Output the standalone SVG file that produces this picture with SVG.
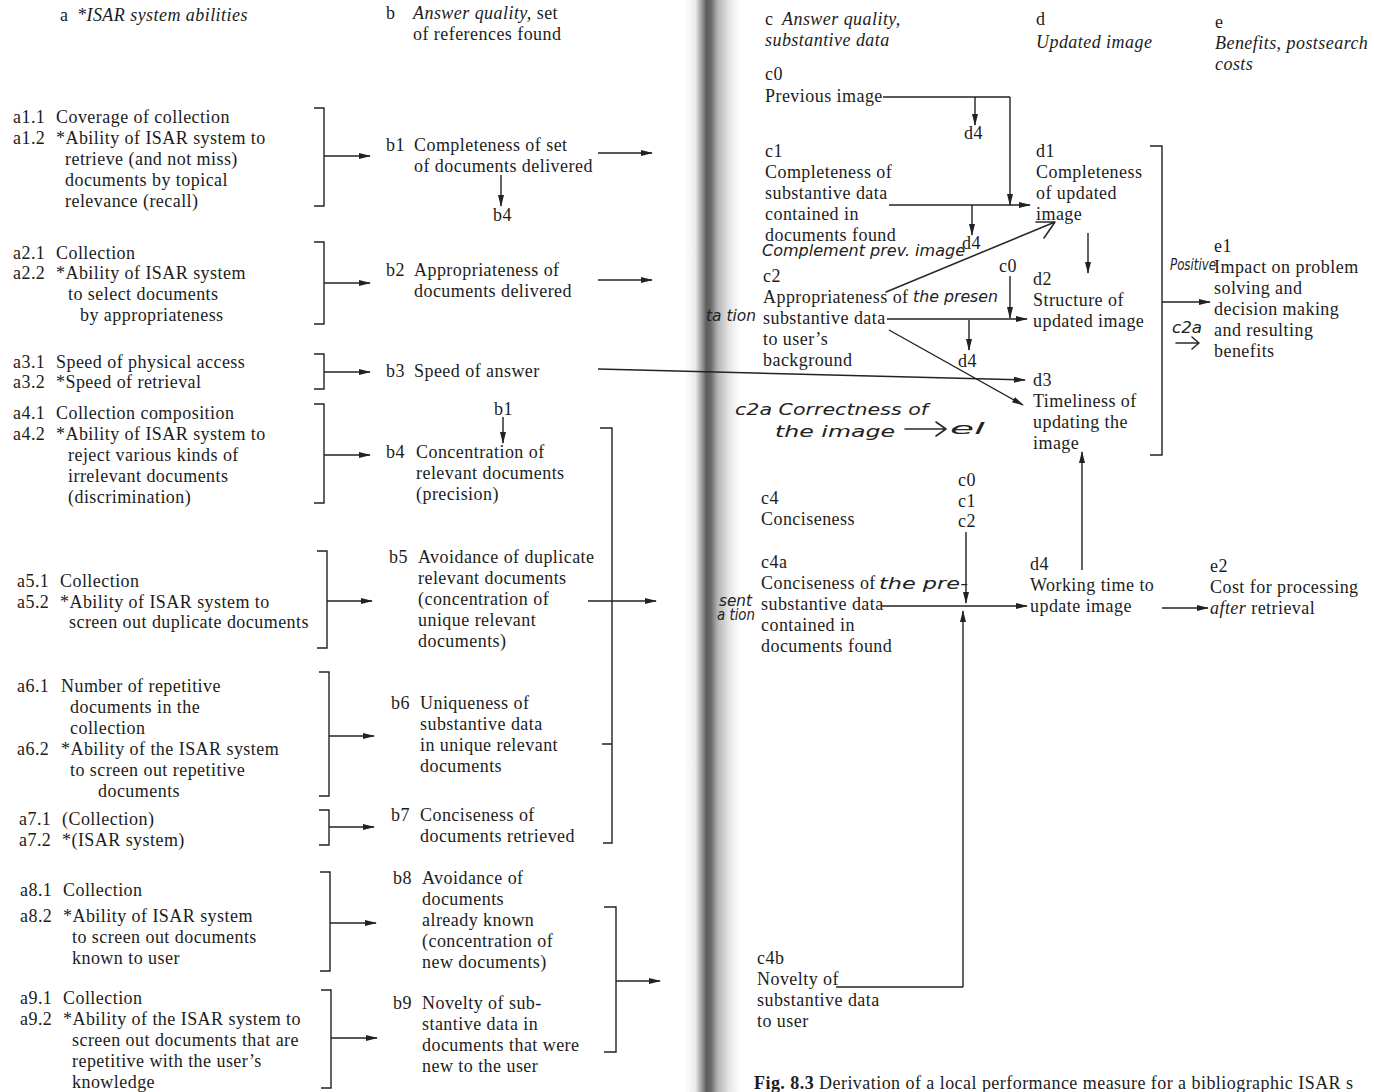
<svg xmlns="http://www.w3.org/2000/svg" width="1374" height="1092" viewBox="0 0 1374 1092">
<defs>
<style>
text{font-family:"Liberation Serif","Times New Roman",serif;font-size:18px;letter-spacing:0.45px;fill:#1c1c1c}
.i{font-style:italic}
.b{font-weight:bold}
.hw{font-family:"DejaVu Sans","Noto Sans",sans-serif;font-style:italic;font-size:16px;letter-spacing:0;fill:#222}
.ln{fill:none;stroke:#222;stroke-width:1.4}
.ar{fill:none;stroke:#222;stroke-width:1.4;marker-end:url(#ah)}
.pen{fill:none;stroke:#2a2a2a;stroke-width:1.6;stroke-linecap:round;stroke-linejoin:round}
</style>
<marker id="ah" viewBox="0 0 12 8" refX="11" refY="4" markerWidth="12" markerHeight="8" markerUnits="userSpaceOnUse" orient="auto">
<path d="M0,1 L12,4 L0,7 Z" fill="#222"/>
</marker>
<linearGradient id="gutter" x1="0" y1="0" x2="1" y2="0">
<stop offset="0" stop-color="#ffffff"/>
<stop offset="0.2" stop-color="#ececec"/>
<stop offset="0.32" stop-color="#9a9a9a"/>
<stop offset="0.4" stop-color="#5c5c5c"/>
<stop offset="0.48" stop-color="#6a6a6a"/>
<stop offset="0.6" stop-color="#b4b4b4"/>
<stop offset="0.8" stop-color="#e4e4e4"/>
<stop offset="1" stop-color="#ffffff"/>
</linearGradient>
</defs>

<rect width="1374" height="1092" fill="#ffffff"/>
<!-- book gutter between the two pages -->
<rect x="684" y="0" width="56" height="1092" fill="url(#gutter)"/>

<!-- column headings -->
<g id="head-a"><text x="60" y="21">a</text><text class="i" x="77" y="21">*ISAR system abilities</text></g>
<g id="head-b"><text x="386" y="19">b</text><text x="413" y="19"><tspan class="i">Answer quality,</tspan> set</text><text x="413" y="40">of references found</text></g>
<g id="head-c"><text x="765" y="25">c</text><text class="i" x="782" y="25">Answer quality,</text><text class="i" x="765" y="46">substantive data</text></g>
<g id="head-d"><text x="1036" y="25">d</text><text class="i" x="1036" y="48">Updated image</text></g>
<g id="head-e"><text x="1215" y="28">e</text><text class="i" x="1215" y="49">Benefits, postsearch</text><text class="i" x="1215" y="70">costs</text></g>

<!-- column a -->
<g id="a1">
<text x="13" y="123">a1.1</text><text x="56" y="123">Coverage of collection</text>
<text x="13" y="144">a1.2</text><text x="56" y="144">*Ability of ISAR system to</text>
<text x="65" y="165">retrieve (and not miss)</text>
<text x="65" y="186">documents by topical</text>
<text x="65" y="207">relevance (recall)</text>
</g>
<g id="a2">
<text x="13" y="259">a2.1</text><text x="56" y="259">Collection</text>
<text x="13" y="279">a2.2</text><text x="56" y="279">*Ability of ISAR system</text>
<text x="68" y="300">to select documents</text>
<text x="80" y="321">by appropriateness</text>
</g>
<g id="a3">
<text x="13" y="368">a3.1</text><text x="56" y="368">Speed of physical access</text>
<text x="13" y="388">a3.2</text><text x="56" y="388">*Speed of retrieval</text>
</g>
<g id="a4">
<text x="13" y="419">a4.1</text><text x="56" y="419">Collection composition</text>
<text x="13" y="440">a4.2</text><text x="56" y="440">*Ability of ISAR system to</text>
<text x="68" y="461">reject various kinds of</text>
<text x="68" y="482">irrelevant documents</text>
<text x="68" y="503">(discrimination)</text>
</g>
<g id="a5">
<text x="17" y="587">a5.1</text><text x="60" y="587">Collection</text>
<text x="17" y="608">a5.2</text><text x="60" y="608">*Ability of ISAR system to</text>
<text x="69" y="628">screen out duplicate documents</text>
</g>
<g id="a6">
<text x="17" y="692">a6.1</text><text x="61" y="692">Number of repetitive</text>
<text x="70" y="713">documents in the</text>
<text x="70" y="734">collection</text>
<text x="17" y="755">a6.2</text><text x="61" y="755">*Ability of the ISAR system</text>
<text x="70" y="776">to screen out repetitive</text>
<text x="98" y="797">documents</text>
</g>
<g id="a7">
<text x="19" y="825">a7.1</text><text x="62" y="825">(Collection)</text>
<text x="19" y="846">a7.2</text><text x="62" y="846">*(ISAR system)</text>
</g>
<g id="a8">
<text x="20" y="896">a8.1</text><text x="63" y="896">Collection</text>
<text x="20" y="922">a8.2</text><text x="63" y="922">*Ability of ISAR system</text>
<text x="72" y="943">to screen out documents</text>
<text x="72" y="964">known to user</text>
</g>
<g id="a9">
<text x="20" y="1004">a9.1</text><text x="63" y="1004">Collection</text>
<text x="20" y="1025">a9.2</text><text x="63" y="1025">*Ability of the ISAR system to</text>
<text x="72" y="1046">screen out documents that are</text>
<text x="72" y="1067">repetitive with the user’s</text>
<text x="72" y="1088">knowledge</text>
</g>

<!-- column b -->
<g id="b1">
<text x="386" y="151">b1</text><text x="414" y="151">Completeness of set</text>
<text x="414" y="172">of documents delivered</text>
<text x="493" y="221">b4</text>
</g>
<g id="b2">
<text x="386" y="276">b2</text><text x="414" y="276">Appropriateness of</text>
<text x="414" y="297">documents delivered</text>
</g>
<g id="b3"><text x="386" y="377">b3</text><text x="414" y="377">Speed of answer</text></g>
<g id="b4">
<text x="494" y="415">b1</text>
<text x="386" y="458">b4</text><text x="416" y="458">Concentration of</text>
<text x="416" y="479">relevant documents</text>
<text x="416" y="500">(precision)</text>
</g>
<g id="b5">
<text x="389" y="563">b5</text><text x="418" y="563">Avoidance of duplicate</text>
<text x="418" y="584">relevant documents</text>
<text x="418" y="605">(concentration of</text>
<text x="418" y="626">unique relevant</text>
<text x="418" y="647">documents)</text>
</g>
<g id="b6">
<text x="391" y="709">b6</text><text x="420" y="709">Uniqueness of</text>
<text x="420" y="730">substantive data</text>
<text x="420" y="751">in unique relevant</text>
<text x="420" y="772">documents</text>
</g>
<g id="b7">
<text x="391" y="821">b7</text><text x="420" y="821">Conciseness of</text>
<text x="420" y="842">documents retrieved</text>
</g>
<g id="b8">
<text x="393" y="884">b8</text><text x="422" y="884">Avoidance of</text>
<text x="422" y="905">documents</text>
<text x="422" y="926">already known</text>
<text x="422" y="947">(concentration of</text>
<text x="422" y="968">new documents)</text>
</g>
<g id="b9">
<text x="393" y="1009">b9</text><text x="422" y="1009">Novelty of sub-</text>
<text x="422" y="1030">stantive data in</text>
<text x="422" y="1051">documents that were</text>
<text x="422" y="1072">new to the user</text>
</g>

<!-- column c -->
<g id="c0">
<text x="765" y="80">c0</text>
<text x="765" y="102">Previous image</text>
<text x="964" y="139">d4</text>
</g>
<g id="c1">
<text x="765" y="157">c1</text>
<text x="765" y="178">Completeness of</text>
<text x="765" y="199">substantive data</text>
<text x="765" y="220">contained in</text>
<text x="765" y="241">documents found</text>
<text x="962" y="249">d4</text>
</g>
<g id="c2">
<text x="763" y="282">c2</text>
<text x="763" y="303">Appropriateness of</text>
<text x="763" y="324">substantive data</text>
<text x="763" y="345">to user’s</text>
<text x="763" y="366">background</text>
<text x="999" y="272">c0</text>
<text x="958" y="367">d4</text>
</g>
<g id="c4">
<text x="761" y="504">c4</text>
<text x="761" y="525">Conciseness</text>
<text x="958" y="486">c0</text>
<text x="958" y="507">c1</text>
<text x="958" y="527">c2</text>
</g>
<g id="c4a">
<text x="761" y="568">c4a</text>
<text x="761" y="589">Conciseness of</text>
<text x="761" y="610">substantive data</text>
<text x="761" y="631">contained in</text>
<text x="761" y="652">documents found</text>
</g>
<g id="c4b">
<text x="757" y="964">c4b</text>
<text x="757" y="985">Novelty of</text>
<text x="757" y="1006">substantive data</text>
<text x="757" y="1027">to user</text>
</g>

<!-- column d -->
<g id="d1">
<text x="1036" y="157">d1</text>
<text x="1036" y="178">Completeness</text>
<text x="1036" y="199">of updated</text>
<text x="1036" y="220">image</text>
</g>
<g id="d2">
<text x="1033" y="285">d2</text>
<text x="1033" y="306">Structure of</text>
<text x="1033" y="327">updated image</text>
</g>
<g id="d3">
<text x="1033" y="386">d3</text>
<text x="1033" y="407">Timeliness of</text>
<text x="1033" y="428">updating the</text>
<text x="1033" y="449">image</text>
</g>
<g id="d4">
<text x="1030" y="570">d4</text>
<text x="1030" y="591">Working time to</text>
<text x="1030" y="612">update image</text>
</g>

<!-- column e -->
<g id="e1">
<text x="1214" y="252">e1</text>
<text x="1214" y="273">Impact on problem</text>
<text x="1214" y="294">solving and</text>
<text x="1214" y="315">decision making</text>
<text x="1214" y="336">and resulting</text>
<text x="1214" y="357">benefits</text>
</g>
<g id="e2">
<text x="1210" y="572">e2</text>
<text x="1210" y="593">Cost for processing</text>
<text x="1210" y="614"><tspan class="i">after</tspan> retrieval</text>
</g>

<!-- caption -->
<g id="caption"><text x="754" y="1089"><tspan class="b">Fig. 8.3</tspan>   Derivation of a local performance measure for a bibliographic ISAR s</text></g>

<!-- connectors -->
<g id="connectors">
<!-- brackets a -> b -->
<path class="ln" d="M314,108 H324 V206 H314"/><path class="ar" d="M324,156 H370"/>
<path class="ln" d="M314,242 H324 V324 H314"/><path class="ar" d="M324,283 H370"/>
<path class="ln" d="M314,354 H324 V389 H314"/><path class="ar" d="M324,372 H370"/>
<path class="ln" d="M314,404 H324 V503 H314"/><path class="ar" d="M324,455 H370"/>
<path class="ln" d="M317,551 H327 V648 H317"/><path class="ar" d="M327,601 H372"/>
<path class="ln" d="M319,672 H329 V796 H319"/><path class="ar" d="M329,736 H374"/>
<path class="ln" d="M319,810 H329 V845 H319"/><path class="ar" d="M329,827 H374"/>
<path class="ln" d="M320,872 H330 V971 H320"/><path class="ar" d="M330,923 H376"/>
<path class="ln" d="M321,990 H331 V1088 H321"/><path class="ar" d="M331,1038 H377"/>
<!-- b -> c -->
<path class="ar" d="M598,153 H652"/>
<path class="ar" d="M501,175 V206"/>
<path class="ar" d="M598,280 H652"/>
<path class="ar" d="M598,369 L1025,380"/>
<path class="ar" d="M503,417 V443"/>
<path class="ln" d="M600,428 H612 V843 H603 M602,744 H612"/>
<path class="ar" d="M588,601 H656"/>
<path class="ln" d="M604,907 H616 V1052 H604"/>
<path class="ar" d="M616,981 H660"/>
<!-- c -> d -->
<path class="ln" d="M883,97 H1010"/>
<path class="ar" d="M1010,97 V205"/>
<path class="ar" d="M975,97 V125"/>
<path class="ar" d="M889,205 H1030"/>
<path class="ar" d="M972,205 V235"/>
<path class="ar" d="M887,319 H1027"/>
<path class="ar" d="M1010,276 V318"/>
<path class="ar" d="M969,320 V350"/>
<path class="ar" d="M889,330 L1023,405"/>
<path class="ar" d="M1088,233 V273"/>
<path class="ar" d="M882,606 H1027"/>
<path class="ar" d="M966,532 V603"/>
<path class="ln" d="M836,987 H963"/>
<path class="ar" d="M963,987 V611"/>
<path class="ar" d="M1082,570 V452"/>
<!-- d -> e -->
<path class="ln" d="M1150,146 H1162 V455 H1150"/>
<path class="ar" d="M1162,302 H1210"/>
<path class="ar" d="M1162,608 H1208"/>
</g>

<!-- pen annotations added by a reader -->
<g id="notes">
<text class="hw" x="762" y="256" textLength="203" lengthAdjust="spacingAndGlyphs">Complement prev. image</text>
<path class="pen" d="M886,292 L1055,222 M1036,222 L1055,222 L1044,238"/>
<text class="hw" x="913" y="302" font-size="17" textLength="85" lengthAdjust="spacingAndGlyphs">the presen</text>
<text class="hw" x="706" y="321" font-size="12" textLength="50" lengthAdjust="spacingAndGlyphs">ta tion</text>
<text class="hw" x="735" y="415" font-size="22" textLength="193" lengthAdjust="spacingAndGlyphs">c2a Correctness of</text>
<text class="hw" x="775" y="437" font-size="22" textLength="120" lengthAdjust="spacingAndGlyphs">the image</text>
<path class="pen" d="M905,429 H946 M936,422 L946,429 L936,436"/>
<text class="hw" x="950" y="434" font-size="22" textLength="35" lengthAdjust="spacingAndGlyphs">el</text>
<text class="hw" x="879" y="589" font-size="18" textLength="89" lengthAdjust="spacingAndGlyphs">the pre-</text>
<text class="hw" x="719" y="606" font-size="13" textLength="33" lengthAdjust="spacingAndGlyphs">sent</text>
<text class="hw" x="717" y="620" font-size="11" textLength="38" lengthAdjust="spacingAndGlyphs">a tion</text>
<text class="hw" x="1170" y="270" font-size="17" textLength="46" lengthAdjust="spacingAndGlyphs">Positive</text>
<text class="hw" x="1172" y="333" font-size="19" textLength="30" lengthAdjust="spacingAndGlyphs">c2a</text>
<path class="pen" d="M1176,343 H1199 M1192,337 L1199,343 L1192,349"/>
</g>
</svg>
